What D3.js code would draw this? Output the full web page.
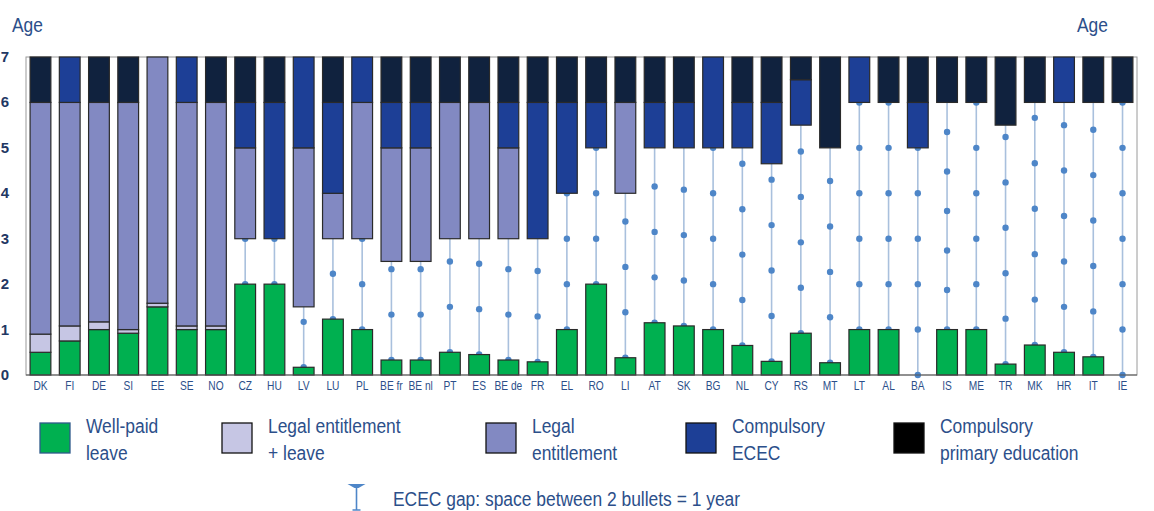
<!DOCTYPE html>
<html>
<head>
<meta charset="utf-8">
<script src="https://cdn.jsdelivr.net/npm/d3@7"></script>
<style>
  body { margin: 0; background: #fff; }
  text { font-family: "Liberation Sans", Arial, sans-serif; }
</style>
</head>
<body>
<script>
// countries, left to right
var countries = ["DK","FI","DE","SI","EE","SE","NO","CZ","HU","LV","LU","PL","BE fr","BE nl","PT","ES","BE de","FR","EL","RO","LI","AT","SK","BG","NL","CY","RS","MT","LT","AL","BA","IS","ME","TR","MK","HR","IT","IE"];

// age at which well-paid leave ends
var leaveEnd     = [0.5,0.75,1,0.92,1.5,1,1,2,2,0.17,1.23,1,0.33,0.33,0.5,0.45,0.33,0.29,1,2,0.38,1.15,1.08,1,0.65,0.3,0.92,0.27,1,1,0,1,1,0.24,0.66,0.5,0.4,0];
// age at which "legal entitlement + leave" ends (same as leaveEnd when there is none)
var entLeaveEnd  = [0.9,1.08,1.17,1,1.58,1.08,1.08,2,2,0.17,1.23,1,0.33,0.33,0.5,0.45,0.33,0.29,1,2,0.38,1.15,1.08,1,0.65,0.3,0.92,0.27,1,1,0,1,1,0.24,0.66,0.5,0.4,0];
// age at which legal entitlement starts (null = none)
var entStart     = [0.9,1.08,1.17,1,1.58,1.08,1.08,3,null,1.5,3,3,2.5,2.5,3,3,3,null,null,null,4,null,null,null,null,null,null,null,null,null,null,null,null,null,null,null,null,null];
// age at which compulsory ECEC starts
var ececStart    = [6,6,6,6,7,6,6,5,3,5,4,6,5,5,6,6,5,3,4,5,6,5,5,5,5,4.65,5.5,5,6,6,5,6,6,5.5,6,6,6,6];
// age at which compulsory primary education starts
var primaryStart = [6,7,6,6,7,7,6,6,6,7,6,7,6,6,6,6,6,6,6,6,6,6,6,7,6,6,6.5,5,7,6,6,6,6,5.5,6,7,6,6];
// spacing of gap bullets in years (as drawn)
var bulletStep   = countries.map(function(c){ return c === "IS" ? 0.87 : 1; });

var ageTicks = [0,1,2,3,4,5,6,7];

var legendItems = [
  {lines: ["Well-paid", "leave"], color: "#00b050"},
  {lines: ["Legal entitlement", "+ leave"], color: "#c6c6e4"},
  {lines: ["Legal", "entitlement"], color: "#8289c2"},
  {lines: ["Compulsory", "ECEC"], color: "#1d3f96"},
  {lines: ["Compulsory", "primary education"], color: "#000000"}
];

var colors = {
  leave: "#00b050",
  entLeave: "#c6c6e4",
  ent: "#8289c2",
  ecec: "#1d3f96",
  primary: "#10223e"
};

var W = 1154, H = 511;
var plotLeft = 26, plotRight = 1137, plotTop = 57, plotBottom = 375;
var textColor = "#2c4f8a";
var narrow = 0.83;  // the original uses a condensed face

var svg = d3.select("body").append("svg")
    .attr("width", W)
    .attr("height", H);

var x = d3.scaleBand()
    .domain(countries)
    .range([plotLeft, plotRight])
    .paddingInner(0.29)
    .paddingOuter(0.14);
var y = d3.scaleLinear()
    .domain([0, 7])
    .range([plotBottom, plotTop]);

// text squeezed horizontally around its x position
function narrowText(sel, tx, ty, k){
    return sel.append("text")
        .attr("transform", "translate(" + tx + "," + ty + ") scale(" + k + ",1)");
}

// plot frame
svg.append("rect")
    .attr("x", plotLeft).attr("y", plotTop)
    .attr("width", plotRight - plotLeft).attr("height", plotBottom - plotTop)
    .attr("fill", "none")
    .attr("stroke", "#9a9a9a")
    .attr("stroke-width", 1);

// build segments from the arrays
var segs = [];
var gaps = [];
countries.forEach(function(c, i){
    segs.push({c: c, y0: 0, y1: leaveEnd[i], color: colors.leave});
    if (entLeaveEnd[i] > leaveEnd[i]) segs.push({c: c, y0: leaveEnd[i], y1: entLeaveEnd[i], color: colors.entLeave});
    if (entStart[i] !== null && ececStart[i] > entStart[i]) segs.push({c: c, y0: entStart[i], y1: ececStart[i], color: colors.ent});
    if (primaryStart[i] > ececStart[i]) segs.push({c: c, y0: ececStart[i], y1: primaryStart[i], color: colors.ecec});
    if (primaryStart[i] < 7) segs.push({c: c, y0: primaryStart[i], y1: 7, color: colors.primary});
    var gapEnd = entStart[i] !== null ? entStart[i] : ececStart[i];
    var gapStart = entLeaveEnd[i];
    if (gapEnd - gapStart > 0.01) {
        var pts = [];
        for (var v = gapStart; v <= gapEnd + 0.02; v += bulletStep[i]) pts.push(v);
        gaps.push({c: c, y0: gapStart, y1: gapEnd, pts: pts});
    }
});

// ECEC gap lines and bullets
var gapG = svg.selectAll(".gap")
    .data(gaps)
    .enter().append("g")
    .attr("class", "gap");
gapG.append("line")
    .attr("x1", function(d){ return x(d.c) + x.bandwidth() / 2; })
    .attr("x2", function(d){ return x(d.c) + x.bandwidth() / 2; })
    .attr("y1", function(d){ return y(d.y0); })
    .attr("y2", function(d){ return y(d.y1); })
    .attr("stroke", "#a9c0dd")
    .attr("stroke-width", 1.6);
gapG.selectAll("circle")
    .data(function(d){ return d.pts.map(function(p){ return {c: d.c, v: p}; }); })
    .enter().append("circle")
    .attr("cx", function(d){ return x(d.c) + x.bandwidth() / 2; })
    .attr("cy", function(d){ return y(d.v); })
    .attr("r", 3.2)
    .attr("fill", "#4e86c8");

// stacked bar segments
svg.selectAll(".seg")
    .data(segs.filter(function(s){ return s.y1 > s.y0; }))
    .enter().append("rect")
    .attr("class", "seg")
    .attr("x", function(d){ return x(d.c); })
    .attr("width", x.bandwidth())
    .attr("y", function(d){ return y(d.y1); })
    .attr("height", function(d){ return y(d.y0) - y(d.y1); })
    .attr("fill", function(d){ return d.color; })
    .attr("stroke", "#2a2a2a")
    .attr("stroke-width", 1.2);

// bottom axis line
svg.append("line")
    .attr("x1", plotLeft).attr("x2", plotRight)
    .attr("y1", plotBottom).attr("y2", plotBottom)
    .attr("stroke", "#555")
    .attr("stroke-width", 1.2);

// x labels
countries.forEach(function(c){
    narrowText(svg, x(c) + x.bandwidth() / 2, 390, 0.85)
        .attr("text-anchor", "middle")
        .attr("font-size", 12)
        .attr("fill", textColor)
        .text(c);
});

// y labels
svg.selectAll(".yl")
    .data(ageTicks)
    .enter().append("text")
    .attr("class", "yl")
    .attr("x", 5)
    .attr("y", function(d){ return y(d) + 5; })
    .attr("text-anchor", "middle")
    .attr("font-size", 15)
    .attr("font-weight", "bold")
    .attr("fill", "#1f3864")
    .text(function(d){ return d; });

// Age titles
narrowText(svg, 12, 32, 0.87).attr("font-size", 20).attr("fill", textColor).text("Age");
narrowText(svg, 1077, 32, 0.87).attr("font-size", 20).attr("fill", textColor).text("Age");

// legend
var legX = [40, 222, 486, 686, 894];
var leg = svg.selectAll(".leg")
    .data(legendItems)
    .enter().append("g")
    .attr("class", "leg")
    .attr("transform", function(d, i){ return "translate(" + legX[i] + ",423)"; });
leg.append("rect")
    .attr("width", 30).attr("height", 30)
    .attr("fill", function(d){ return d.color; })
    .attr("stroke", function(d, i){ return i === 0 ? "#2e5a8a" : "#111"; })
    .attr("stroke-width", 1.3);
leg.each(function(d){
    var g = d3.select(this);
    d.lines.forEach(function(t, k){
        narrowText(g, 46, 10 + k * 27, narrow)
            .attr("font-size", 21)
            .attr("fill", textColor)
            .text(t);
    });
});

// ECEC gap legend symbol
var gx = 356.5;
svg.append("path")
    .attr("d", "M" + (gx - 9) + ",484 L" + (gx + 9) + ",484 L" + (gx + 2) + ",488 L" + (gx - 2) + ",488 Z")
    .attr("fill", "#4e86c8");
svg.append("line")
    .attr("x1", gx).attr("x2", gx)
    .attr("y1", 486).attr("y2", 510)
    .attr("stroke", "#4e86c8").attr("stroke-width", 1.6);
svg.append("line")
    .attr("x1", gx - 4).attr("x2", gx + 4)
    .attr("y1", 510).attr("y2", 510)
    .attr("stroke", "#4e86c8").attr("stroke-width", 1.5);
narrowText(svg, 393, 506, narrow)
    .attr("font-size", 21)
    .attr("fill", textColor)
    .text("ECEC gap: space between 2 bullets = 1 year");
</script>
</body>
</html>
